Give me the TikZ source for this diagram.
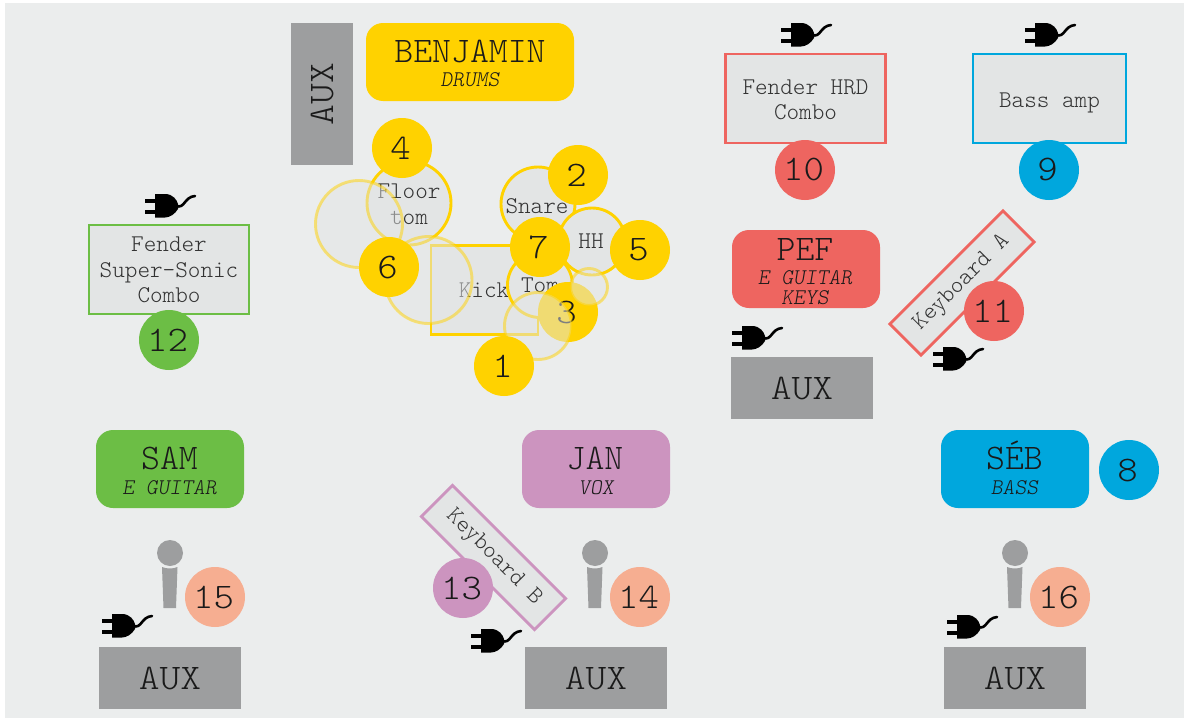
\documentclass[tikz,border=0pt]{standalone}
\usepackage{fontspec}
\setmainfont{Latin Modern Mono Light}
\newfontface\numface[FakeStretch=1.08]{Latin Modern Mono Light}
\newfontface\auxface[FakeStretch=1.1]{Latin Modern Mono Light}
\definecolor{bgc}{HTML}{EBEDED}
\definecolor{inst}{HTML}{E3E5E5}
\definecolor{ygold}{HTML}{FFD200}
\definecolor{rcol}{HTML}{EE6560}
\definecolor{bcol}{HTML}{00A7DD}
\definecolor{gcol}{HTML}{6CBE45}
\definecolor{pcol}{HTML}{CC94BF}
\definecolor{scol}{HTML}{F6AE91}
\definecolor{auxc}{HTML}{9D9E9F}
\definecolor{ink}{HTML}{1A1A1A}
\definecolor{ink2}{HTML}{333333}
\newcommand{\bigf}{\fontsize{36}{36}\selectfont}
\newcommand{\numf}{\numface\fontsize{36}{36}\selectfont}
\newcommand{\auxf}{\auxface\fontsize{36}{36}\selectfont}
\newcommand{\smf}{\fontsize{24}{24}\selectfont}
\newcommand{\itf}{\fontsize{22.4}{22.4}\selectfont\itshape}
\newcommand{\plugat}[2]{\begin{scope}[shift={(#1,#2)}]
  \fill[black] (-25,-7.5) rectangle (-13,-3.5);
  \fill[black] (-25,3.5) rectangle (-13,7.5);
  \fill[black] (-15,-12) -- (-5,-12) .. controls (3,-12) and (7,-6) .. (8,-2) -- (8,3) .. controls (5,8) and (0,11.5) .. (-5,11.5) -- (-15,11.5) -- cycle;
  \draw[black,line width=2.6pt,line cap=round] (6,0) .. controls (15,3) and (14,-9) .. (25,-10);
\end{scope}}
\newcommand{\micat}[1]{\begin{scope}[shift={(#1,0)}]
  \fill[auxc] (0,553) circle (13);
  \fill[auxc] (-8,567) .. controls (-3,569) and (3,569) .. (7.5,567) -- (6,608) -- (-6.5,608) -- cycle;
\end{scope}}
\tikzset{
  x=1pt,y=-1pt,
  num/.style={circle,minimum size=60,inner sep=0,outer sep=0,text=ink,font=\numf,execute at end node={\kern3pt}},
  person/.style={rectangle,rounded corners=17,minimum height=78,inner sep=0,outer sep=0},
  auxbox/.style={rectangle,fill=auxc,minimum width=142,minimum height=62,inner sep=0,outer sep=0,text=ink,font=\auxf},
  ampbox/.style={rectangle,fill=inst,line width=2.9pt,minimum height=89,inner sep=0,outer sep=0},
  drum/.style={circle,fill=inst,draw=ygold,line width=2.9pt,inner sep=0,outer sep=0},
  ghost/.style={circle,fill=inst,draw=ygold,line width=2.9pt,inner sep=0,opacity=0.5},
  keybox/.style={rectangle,fill=inst,line width=2.9pt,minimum width=160,minimum height=44,inner sep=0,outer sep=0,text=ink2,font=\smf},
  bigt/.style={anchor=base,inner sep=0,outer sep=0,text=ink,font=\bigf},
  smt/.style={anchor=base,inner sep=0,outer sep=0,text=ink2,font=\smf},
  itt/.style={anchor=base,inner sep=0,outer sep=0,text=ink,font=\itf},
}
\begin{document}
\begin{tikzpicture}
\useasboundingbox (0,0) rectangle (1184,720);
\fill[white] (0,0) rectangle (1184,720);
\fill[bgc] (5,3) rectangle (1184,718);

% people
\node[person,fill=ygold,minimum width=208] (benbox) at (470,62) {};
\node[bigt] (ben) at (470,62) {BENJAMIN};
\node[itt] (bens) at (470,86) {DRUMS};
\node[person,fill=rcol,minimum width=148] (pefbox) at (806,269) {};
\node[bigt] (pef) at (805,260) {PEF};
\node[itt] (pefa) at (805,284) {E GUITAR};
\node[itt] (pefb) at (805,304) {KEYS};
\node[person,fill=gcol,minimum width=148] (sambox) at (170,469) {};
\node[bigt] (sam) at (169.5,469) {SAM};
\node[itt] (sams) at (169.5,494) {E GUITAR};
\node[person,fill=pcol,minimum width=148] (janbox) at (596,469) {};
\node[bigt] (jan) at (595,469) {JAN};
\node[itt] (jans) at (596,494) {VOX};
\node[person,fill=bcol,minimum width=148] (sebbox) at (1015,469) {};
\node[bigt] (seb) at (1014.5,469) {SÉB};
\node[itt] (sebs) at (1014.5,494) {BASS};

% aux
\node[auxbox,rotate=90] (auxa) at (322,94) {AUX};
\node[auxbox] (auxb) at (802,388) {AUX};
\node[auxbox] (auxc1) at (170,678) {AUX};
\node[auxbox] (auxd) at (596,678) {AUX};
\node[auxbox] (auxe) at (1015,678) {AUX};

% amps
\node[ampbox,draw=rcol,minimum width=160] (hrd) at (805.5,98.5) {};
\node[smt] (hrda) at (805.5,94) {Fender HRD};
\node[smt] (hrdb) at (805.5,119) {Combo};
\node[ampbox,draw=bcol,minimum width=153] (bass) at (1049.5,98.5) {};
\node[smt] (basst) at (1049.5,107) {Bass amp};
\node[ampbox,draw=gcol,minimum width=160] (sonic) at (169,269.5) {};
\node[smt] (sonica) at (169,251) {Fender};
\node[smt] (sonicb) at (169,277) {Super-Sonic};
\node[smt] (sonicc) at (169,302) {Combo};

% keyboards
\node[keybox,draw=rcol,rotate=45] (keya) at (962,283) {Keyboard A};
\node[keybox,draw=pcol,rotate=-45] (keyb) at (493.5,557.5) {Keyboard B};

% drum kit
\node[rectangle,fill=inst,draw=ygold,line width=2.9pt,minimum width=107,minimum height=89,inner sep=0,outer sep=0] (kick) at (484.5,290) {};
\node[smt] (kickt) at (484,297) {Kick};
\node[drum,minimum size=84] (floor) at (409,203) {};
\node[smt] (floora) at (409,198) {Floor};
\node[smt] (floorb) at (409,224) {tom};
\node[drum,minimum size=74] (snare) at (538,204) {};
\node[smt] (snaret) at (537,213) {Snare};
\node[drum,minimum size=67] (hh) at (592,241.5) {};
\node[smt] (hht) at (591,248) {HH};
\node[drum,minimum size=65] (tom) at (540,285) {};
\node[smt] (tomt) at (540,292) {Tom};

\node[num,fill=ygold] (n3) at (568,312) {3};

\node[ghost,minimum size=87] (ghosta) at (359,224) {};
\node[ghost,minimum size=87] (ghostb) at (428.5,280) {};
\node[ghost,minimum size=67] (ghostc) at (538,326) {};
\node[ghost,minimum size=37] (ghostd) at (589,287) {};

\node[num,fill=ygold] (n1) at (504,366) {1};
\node[num,fill=ygold] (n2) at (578,175) {2};
\node[num,fill=ygold] (n4) at (402,148) {4};
\node[num,fill=ygold] (n5) at (640,250) {5};
\node[num,fill=ygold] (n6) at (389,267) {6};
\node[num,fill=ygold] (n7) at (540,247) {7};
\node[num,fill=bcol] (n8) at (1129,470) {8};
\node[num,fill=bcol] (n9) at (1049,170) {9};
\node[num,fill=rcol] (n10) at (805,170) {10};
\node[num,fill=rcol] (n11) at (994,311) {11};
\node[num,fill=gcol] (n12) at (169,340) {12};
\node[num,fill=pcol] (n13) at (463,588) {13};
\node[num,fill=scol] (n14) at (640,597) {14};
\node[num,fill=scol] (n15) at (215,597) {15};
\node[num,fill=scol] (n16) at (1060,597) {16};

% microphones
\micat{170}
\micat{595}
\micat{1015}

% plugs
\plugat{806}{35}
\plugat{1050}{35}
\plugat{170}{206}
\plugat{757}{338}
\plugat{958}{359}
\plugat{127}{626}
\plugat{496}{641}
\plugat{972}{627}
\end{tikzpicture}
\end{document}
